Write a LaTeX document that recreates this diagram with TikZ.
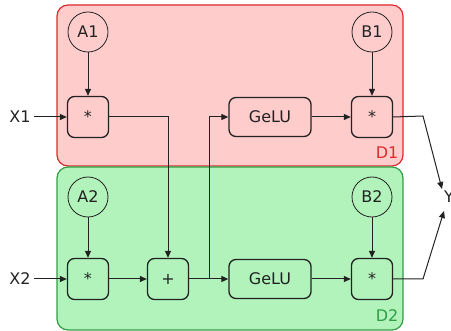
\documentclass[tikz,border=0pt]{standalone}
\usepackage{fontspec}
\setmainfont{DejaVu Sans}
\usetikzlibrary{arrows.meta,positioning}

\definecolor{redfill}{HTML}{FFCCCC}
\definecolor{redline}{HTML}{E0292B}
\definecolor{greenfill}{HTML}{B2F2BB}
\definecolor{greenline}{HTML}{2F9E44}
\definecolor{ink}{HTML}{222222}

\begin{document}
\begin{tikzpicture}[->,>={Triangle[length=7pt,width=6pt]},x=1pt,y=1pt,
    line width=1pt,draw=ink,text=ink,
    font=\fontsize{16}{19}\selectfont,
    op/.style={draw,rounded corners=7pt,line width=1.3pt,minimum width=41pt,minimum height=41pt,inner sep=0pt},
    act/.style={draw,rounded corners=7pt,line width=1.3pt,minimum width=82pt,minimum height=39pt,inner sep=0pt},
    param/.style={circle,draw,line width=0.8pt,minimum size=40pt,inner sep=0pt}]

\useasboundingbox (0,0) rectangle (451,-331);

% device areas
\draw[-,fill=redfill,draw=redline,line width=1.2pt,rounded corners=11pt] (57,-5) rectangle (403,-166);
\draw[-,fill=greenfill,draw=greenline,line width=1.2pt,rounded corners=11pt] (57,-167) rectangle (403,-330);
\node[text=redline] (d1) at (387,-153) {D1};
\node[text=greenline] (d2) at (387,-316) {D2};

% first row
\node[op] (m1) at (88,-117) {*};
\node[param] (a1) [above of=m1, node distance=85pt] {A1};
\node[act] (g1) [right of=m1, node distance=182pt] {GeLU};
\node[op] (mb1) [right of=g1, node distance=102pt] {*};
\node[param] (b1) [above of=mb1, node distance=85pt] {B1};
\node (x1) [left of=m1, node distance=68pt] {X1};

% second row
\node[op] (m2) [below of=m1, node distance=162pt] {*};
\node[param] (a2) [above of=m2, node distance=82pt] {A2};
\node[op] (plus) [right of=m2, node distance=80pt] {+};
\node[act] (g2) [right of=plus, node distance=102pt] {GeLU};
\node[op] (mb2) [right of=g2, node distance=102pt] {*};
\node[param] (b2) [above of=mb2, node distance=82pt] {B2};
\node (x2) [left of=m2, node distance=68pt] {X2};

\node (y) at (449,-197) {Y};
\coordinate (br) at (209,-279);
\coordinate (k1) at (423,-116);
\coordinate (k2) at (423,-279);

\draw (x1) -- (m1);
\draw (a1) -- (m1);
\draw (m1.east) -| (plus.north);
\draw (br) |- (g1.west);
\draw (g1) -- (mb1);
\draw (b1) -- (mb1);
\draw (mb1.east) -- (k1) -- (442,-189);

\draw (x2) -- (m2);
\draw (a2) -- (m2);
\draw (m2) -- (plus);
\draw (plus) -- (g2);
\draw (g2) -- (mb2);
\draw (b2) -- (mb2);
\draw (mb2.east) -- (k2) -- (444,-211);

\end{tikzpicture}
\end{document}
